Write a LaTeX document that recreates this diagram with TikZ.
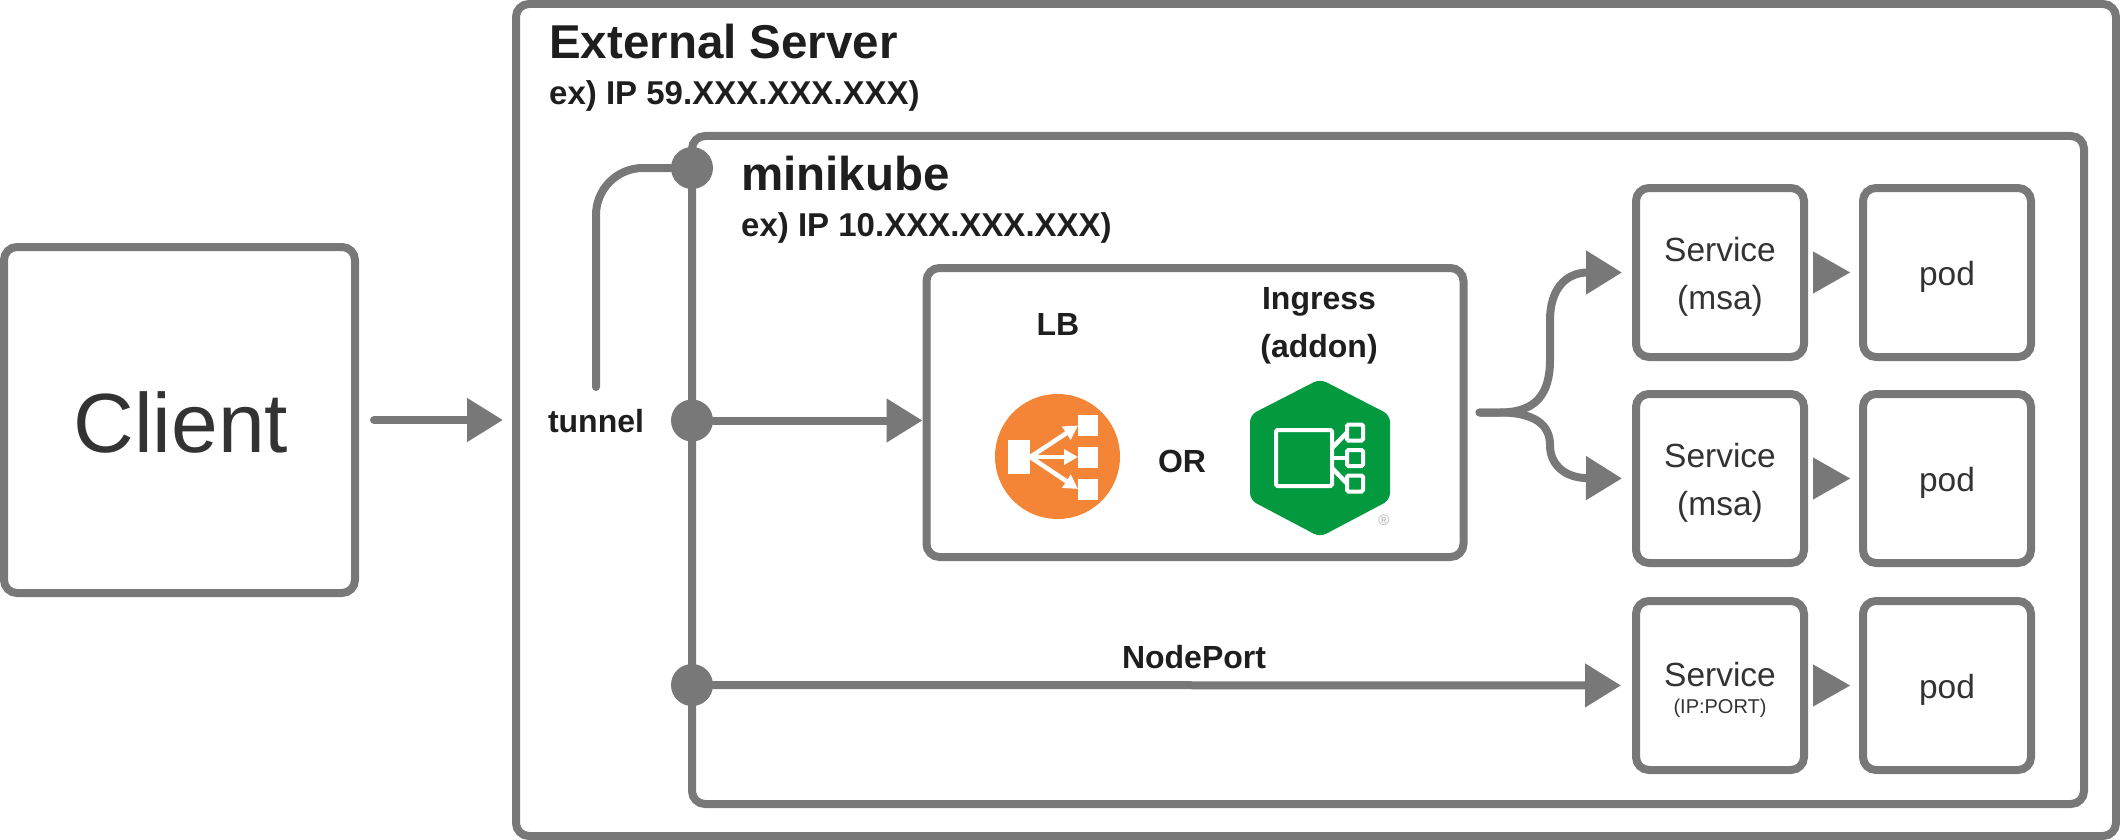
\documentclass[tikz,border=0pt]{standalone}
\usepackage{fontspec}
\setmainfont{Liberation Sans}
\usepackage{xcolor}
\usetikzlibrary{
  arrows.meta,
  positioning,
}
\definecolor{linegray}{HTML}{787878}
\definecolor{inkdark}{HTML}{1E1E1E}
\definecolor{inksoft}{HTML}{333333}
\definecolor{lborange}{HTML}{F58536}
\definecolor{ingressgreen}{HTML}{039A3F}
\newcommand{\toproom}{\rule{0pt}{33pt}}

\begin{document}
\begin{tikzpicture}[
  x=1pt, y=-1pt,
  every node/.style={text=inkdark, inner sep=0pt},
  panel/.style={
    rectangle, draw=linegray, line width=8pt, rounded corners=13pt,
  },
  svcbox/.style={
    panel, minimum width=168pt, minimum height=169pt,
    align=center, text=inksoft, font=\fontsize{33.5}{48}\selectfont,
  },
  head/.style={font=\fontsize{47.5}{47.5}\selectfont\bfseries, anchor=west},
  subhead/.style={font=\fontsize{33}{33}\selectfont\bfseries, anchor=west},
  tag/.style={font=\fontsize{32}{48}\selectfont\bfseries, align=center},
  dot/.style={circle, fill=linegray, minimum size=42pt},
  wire/.style={draw=linegray, line width=8pt, line cap=round},
  flow/.style={wire, -{Triangle[length=36pt, width=42pt]}},
  whitebox/.style={rectangle, fill=white, outer sep=0pt},
  whitewire/.style={draw=white, line width=4.5pt},
  ingbox/.style={rectangle, draw=white, line width=4pt, rounded corners=1.5pt, outer sep=0pt},
]
  \useasboundingbox (0,0) rectangle (2120,840);

  % Containers
  \node[panel, minimum width=351pt, minimum height=346pt] (client) at (179.5,420) {};
  \node[panel, minimum width=1600pt, minimum height=832pt] (ext) at (1316,420) {};
  \node[panel, minimum width=1392pt, minimum height=668pt] (mk) at (1388,470) {};
  \node[panel, minimum width=537pt, minimum height=289pt] (gate) at (1195,412.5) {};

  \node[text=inksoft, font=\fontsize{84}{84}\selectfont] (clientname) at (181,422) {Client};

  % Titles
  \node[head] (exttitle) at (549,42) {External Server};
  \node[subhead] (extip) at (549,96) {ex) IP 59.XXX.XXX.XXX)};
  \node[head] (mktitle) at (741,174) {minikube};
  \node[subhead] (mkip) at (741,228) {ex) IP 10.XXX.XXX.XXX)};

  % Services and pods
  \node[svcbox] (s1) at (1720,272.5) {\toproom Service\\(msa)};
  \node[svcbox, below=29pt of s1] (s2) {\toproom Service\\(msa)};
  \node[svcbox, below=30pt of s2] (s3) {\toproom Service\\[-21pt]{\fontsize{20}{20}\selectfont (IP:PORT)}};
  \node[svcbox, right=51pt of s1] (p1) {\toproom pod};
  \node[svcbox, right=51pt of s2] (p2) {\toproom pod};
  \node[svcbox, right=51pt of s3] (p3) {\toproom pod};

  % Tap points on the minikube border
  \node[dot] (d1) at (692,168) {};
  \node[dot] (d2) at (692,420.5) {};
  \node[dot] (d3) at (692,685) {};

  \node[tag] (tunnel) at (596,421) {tunnel};
  \coordinate (tunneltop) at (596,387);
  \node[tag] (nodeport) at (1194,657) {NodePort};

  % Connectors
  \draw[flow, shorten <=15pt, shorten >=9pt] (client) -- (ext);
  \draw[wire, rounded corners=47pt] (tunneltop) |- (d1);
  \draw[flow] (d2) -- (gate.west |- d2);
  \draw[flow, shorten >=11pt] (d3) -- (s3);
  \draw[flow, shorten <=12pt, shorten >=10pt] (gate.east) -- (1500,412.5)
    .. controls (1535,412.5) and (1550,395) .. (1550,360) -- (1550,320)
    .. controls (1550,290) and (1565,272.5) .. (s1.west);
  \draw[flow, shorten <=12pt, shorten >=10pt] (gate.east) -- (1500,412.5)
    .. controls (1535,412.5) and (1550,425) .. (1550,445)
    .. controls (1550,465) and (1565,478) .. (s2.west);
  \foreach \n in {1,2,3} {
    \draw[-{Triangle[length=37pt, width=42pt]}, draw=linegray, line width=0.1pt, shorten <=5pt, shorten >=9pt] (s\n) -- (p\n);
  }

  % LB
  \node[tag] (lb) at (1058,324) {LB};
  \node[tag] (ingress) at (1319,326) {Ingress\\(addon)};
  \node[tag] (orlabel) at (1182,461) {OR};
  \node[circle, fill=lborange, minimum size=125pt] (lbicon) at (1057.5,456.5) {};
  \node[whitebox, minimum width=22.5pt, minimum height=34pt] (lbin) at (1019,457) {};
  \node[whitebox, minimum width=20pt, minimum height=21pt] (lbo1) at (1088,425.5) {};
  \node[whitebox, minimum width=20pt, minimum height=21pt] (lbo2) at (1088,457) {};
  \node[whitebox, minimum width=20pt, minimum height=21pt] (lbo3) at (1088,489) {};
  \foreach \n in {1,2,3} {
    \draw[whitewire, -{Triangle[length=14pt, width=15pt]}] (lbin.east) -- (lbo\n.west);
  }

  % Ingress
  \fill[ingressgreen, rounded corners=7pt] (1320,379) -- (1390,415) -- (1390,500)
    -- (1320,537) -- (1250,500) -- (1250,415) -- cycle;
  \node[ingbox, minimum width=56pt, minimum height=56pt] (ingmain) at (1304,458) {};
  \node[ingbox, minimum width=16pt, minimum height=16pt] (ing1) at (1355,432.5) {};
  \node[ingbox, minimum width=16pt, minimum height=16pt] (ing2) at (1355,458) {};
  \node[ingbox, minimum width=16pt, minimum height=16pt] (ing3) at (1355,483.5) {};
  \draw[whitewire] (ingmain.east) ++(0,-10) -- (ing1.west);
  \draw[whitewire] (ingmain.east) -- (ing2.west);
  \draw[whitewire] (ingmain.east) ++(0,10) -- (ing3.west);
  \node[text=gray!60, font=\fontsize{15}{15}\selectfont] (regmark) at (1384,520) {®};
\end{tikzpicture}
\end{document}
